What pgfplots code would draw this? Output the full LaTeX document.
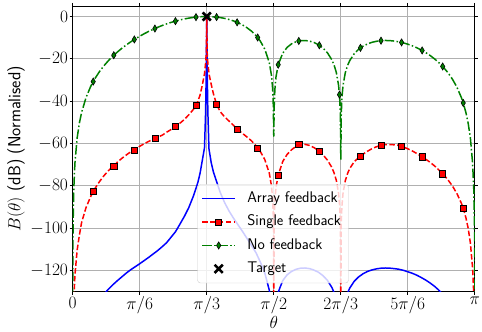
\RequirePackage{fix-cm}
\documentclass[border=0pt]{standalone}
\usepackage{pgfplots}
\usepackage{pgfplotstable}
\pgfplotsset{compat=1.18}
\definecolor{mgreen}{rgb}{0,0.5,0}
\definecolor{gridgray}{HTML}{B0B0B0}
\definecolor{leggray}{HTML}{CCCCCC}

\pgfplotstableread{
x y
0 -150
10 -137.2
14 -131.2
16 -128.8
18 -126.7
20 -124.8
22 -123.0
24 -121.2
26 -119.6
28 -118.2
30 -116.8
32 -115.3
34 -113.8
36 -112.2
38 -110.6
40 -108.8
42 -106.9
44 -104.3
46 -101.7
48 -98.1
50 -94.4
52 -90.2
54 -84.9
56 -78.5
57 -74.1
58 -68.1
59 -62.0
59.5 -45
59.8 -25
60 0
60.2 -25
60.5 -45
61 -62.5
62 -69.0
63 -73.5
64 -76.7
66 -83.0
68 -87.9
70 -91.9
72 -95.3
74 -98.4
76 -101.5
78 -104.8
80 -108.1
82 -111.5
84 -116.0
86 -121.2
88 -129.3
89 -135.5
90 -150
91 -136.0
92 -130.2
94 -124.8
96 -122.0
98 -120.4
100 -119.4
102 -118.9
104 -118.8
106 -119.1
108 -119.8
110 -120.8
112 -122.4
114 -124.6
116 -128.0
117 -130.4
118 -133.9
119 -140
120 -150
121 -140
122 -134.1
123 -130.7
124 -128.3
126 -125.1
128 -123.0
130 -121.5
132 -120.4
134 -119.7
136 -119.2
138 -118.9
140 -118.8
142 -118.9
144 -119.1
146 -119.4
148 -119.9
150 -120.6
152 -121.3
154 -122.2
156 -123.3
158 -124.5
160 -125.9
162 -127.5
164 -129.4
166 -131.6
168 -134.1
170 -137.2
172 -141
180 -160
}\arraytab

\pgfplotstableread{
x y
0 -140
0.5 -134.5
1 -122.4
2 -110.4
3 -103.3
4 -97.3
6 -90.2
8 -85.2
9.2 -82.5
10 -81.2
12 -78.0
14 -75.2
16 -72.8
18 -70.9
18.4 -70.7
20 -68.8
22 -67.0
24 -65.4
26 -63.9
27.6 -63.0
28 -62.6
30 -61.3
32 -60.1
34 -59.0
36 -58.0
36.8 -57.5
38 -57.0
40 -56.1
42 -54.7
44 -53.4
46 -52.0
48 -50.4
50 -48.6
52 -46.4
54 -43.9
55.2 -42.0
56 -40.2
57 -37.1
58 -32.5
59 -27.0
59.5 -22.0
59.8 -17.0
60 0
60.2 -17.0
60.5 -22.0
61 -27.0
62 -32.0
63 -36.5
64.4 -41.5
66 -44.9
68 -47.4
70 -49.4
72 -51.4
73.6 -53.2
76 -55.2
78 -56.9
80 -58.7
82 -61.0
82.8 -62.1
84 -63.8
86 -67.6
88 -74.0
89 -80.2
89.5 -86.3
89.8 -94.4
89.95 -106.4
90 -140
90.2 -94.5
90.5 -86.6
91 -80.7
92 -74.9
94 -68.5
96 -65.1
98 -62.9
100 -61.3
101.2 -60.5
102 -60.4
104 -60.4
106 -60.9
108 -61.9
110 -63.3
110.4 -63.8
112 -65.3
114 -67.8
116 -71.3
117 -73.9
118 -77.4
119 -83.5
119.5 -89.5
119.8 -97.5
120 -140
120.2 -97.5
120.5 -89.5
121 -83.5
122 -77.6
123 -74.2
124 -71.8
126 -68.6
128 -66.6
128.8 -66.0
130 -65.0
132 -63.6
134 -62.4
136 -61.5
138 -60.8
140 -60.5
142 -60.5
144 -60.6
146 -60.9
147.2 -61.3
148 -61.6
150 -62.5
152 -63.5
154 -64.7
156 -66.0
156.4 -66.3
158 -67.4
160 -68.9
162 -70.6
164 -72.6
165.6 -74.3
166 -74.7
168 -77.2
170 -80.1
172 -83.7
174 -88.3
174.8 -90.6
176 -95.1
177 -100.0
178 -107.0
179 -119.0
179.5 -131.0
180 -140
}\singletab

\pgfplotstableread{
x y
9.2 -82.5
18.4 -70.7
27.6 -63.0
36.8 -57.5
46.0 -52.0
55.2 -42.0
64.4 -41.5
73.6 -53.2
82.8 -62.1
92.0 -74.9
101.2 -60.5
110.4 -63.8
128.8 -66.0
138.0 -60.8
147.2 -61.3
156.4 -66.3
165.6 -74.3
174.8 -90.6
}\singlemarks

\pgfplotstableread{
x y
0 -140
0.05 -121.4
0.1 -109.4
0.2 -97.4
0.5 -81.45
1 -69.41
2 -57.37
3 -50.31
4 -45.30
6 -38.22
8 -33.17
9.2 -30.71
10 -29.24
12 -26.00
14 -23.24
16 -20.83
18 -18.69
18.4 -18.29
20 -16.76
22 -15.01
24 -13.41
26 -11.93
27.6 -10.83
28 -10.56
30 -9.30
32 -8.12
34 -7.04
36 -6.03
36.8 -5.65
38 -5.10
40 -4.25
42 -3.48
44 -2.78
46 -2.15
48 -1.60
50 -1.13
52 -0.73
54 -0.42
55.2 -0.27
56 -0.19
58 -0.05
59 -0.01
60 0
61 -0.01
62 -0.05
64 -0.20
64.4 -0.25
66 -0.47
68 -0.86
70 -1.39
72 -2.06
73.6 -2.73
74 -2.91
76 -3.97
78 -5.27
80 -6.88
82 -8.94
82.8 -9.91
84 -11.65
86 -15.41
88 -21.77
89 -28.00
89.5 -34.13
89.8 -42.16
89.95 -54.24
90 -56.5
90.2 -42.26
90.5 -34.37
91 -28.48
92 -22.73
94 -17.33
96 -14.54
98 -12.87
100 -11.89
101.2 -11.54
102 -11.40
104 -11.32
106 -11.60
108 -12.26
110 -13.31
110.4 -13.58
112 -14.86
114 -17.10
116 -20.45
117 -22.92
118 -26.43
119 -32.46
119.4 -36.9
119.5 -38.50
119.8 -46.46
120 -67.6
120.2 -46.48
120.5 -38.54
121 -32.54
122 -26.60
123 -23.18
124 -20.80
126 -17.57
128 -15.45
128.8 -14.79
130 -13.96
132 -12.90
134 -12.16
136 -11.68
138 -11.40
140 -11.30
142 -11.37
144 -11.59
146 -11.94
147.2 -12.22
148 -12.44
150 -13.06
152 -13.83
154 -14.74
156 -15.79
156.4 -16.02
158 -17.02
160 -18.42
162 -20.03
164 -21.89
165.6 -23.59
166 -24.05
168 -26.59
170 -29.65
172 -33.44
174 -38.37
174.8 -40.84
176 -45.38
177 -50.37
178 -57.38
179 -69.42
179.5 -81.45
179.8 -97.4
179.9 -109.4
179.95 -121.4
180 -140
}\nofbtab

\pgfplotstableread{
x y
9.2 -30.71
18.4 -18.29
27.6 -10.83
36.8 -5.65
46.0 -2.15
55.2 -0.27
64.4 -0.25
73.6 -2.73
82.8 -9.91
92.0 -22.73
101.2 -11.54
110.4 -13.58
119.4 -36.9
128.8 -14.79
138.0 -11.40
147.2 -12.22
156.4 -16.02
165.6 -23.59
174.8 -40.84
}\nofbmarks

\pgfplotstableread{
x y
60 0
}\targettab

\begin{document}
\begin{tikzpicture}
\begin{axis}[
  width=404pt, height=287pt, scale only axis,
  xmin=0, xmax=180, ymin=-130, ymax=5,
  xtick={0,30,60,90,120,150,180},
  xticklabels={$0$,$\pi/6$,$\pi/3$,$\pi/2$,$2\pi/3$,$5\pi/6$,$\pi$},
  ytick={-120,-100,-80,-60,-40,-20,0},
  grid=major,
  grid style={gridgray, line width=0.8pt},
  axis line style={black, line width=0.8pt},
  tick style={black, line width=0.8pt},
  major tick length=3pt, tick align=outside,
  ticklabel style={font=\fontsize{17.5}{20}\selectfont},
  xticklabel style={inner sep=2pt},
  yticklabel style={inner sep=1.5pt},
  xlabel={$\theta$},
  ylabel={$B(\theta)$ (dB) (Normalised)},
  label style={font=\sffamily\fontsize{17.5}{21}\selectfont},
  xlabel style={at={(axis description cs:0.5,0)}, anchor=base, yshift=-37pt},
  ylabel style={at={(axis description cs:-0.1188,0.5)}, anchor=south, inner sep=0pt},
  legend cell align=left,
  legend image code/.code={\draw[mark repeat=2,mark phase=2,#1] plot coordinates {(0pt,0pt) (16.5pt,0pt) (33pt,0pt)};},
  legend image post style={sharp corners, opacity=1},
  legend style={at={(axis description cs:0.310,0.376)}, anchor=north west,
    font=\sffamily\fontsize{15.5}{18}\selectfont,
    draw=leggray, fill=white, fill opacity=0.8, text opacity=1, draw opacity=1,
    rounded corners=3pt, inner xsep=4pt, inner ysep=2.5pt,
    column sep=8pt, row sep=0pt,
    nodes={inner xsep=3.5pt, inner ysep=4.25pt, text height=11.25pt, text depth=3.75pt}},
]
\addplot[blue, line width=1.5pt, line join=round, forget plot] table {\arraytab};
\addplot[red, line width=1.5pt, line join=round, dash pattern=on 5.5pt off 2.4pt, forget plot] table {\singletab};
\addplot[only marks, mark=square*, mark size=3.1pt, mark options={solid, fill=red, draw=black, line width=0.6pt}, forget plot] table {\singlemarks};
\addplot[mgreen, line width=1.5pt, line join=round, dash pattern=on 9.6pt off 2.4pt on 1.5pt off 2.4pt, forget plot] table {\nofbtab};
\addplot[only marks, mark=diamond*, mark size=3.6pt, mark options={solid, xscale=0.8, fill=mgreen, draw=black, line width=0.6pt}, forget plot] table {\nofbmarks};
\addplot[only marks, mark=x, mark size=5.8pt, mark options={line width=2.6pt, black}, forget plot] table {\targettab};

\addlegendimage{blue, line width=1.5pt}
\addlegendentry{Array feedback}
\addlegendimage{red, line width=1.5pt, dash pattern=on 5.5pt off 2.4pt, mark=square*, mark size=3.1pt, mark options={solid, fill=red, draw=black, line width=0.6pt}}
\addlegendentry{Single feedback}
\addlegendimage{mgreen, line width=1.5pt, dash pattern=on 9.6pt off 2.4pt on 1.5pt off 2.4pt, mark=diamond*, mark size=3.6pt, mark options={solid, xscale=0.8, fill=mgreen, draw=black, line width=0.6pt}}
\addlegendentry{No feedback}
\addlegendimage{only marks, mark=x, mark size=5.8pt, mark options={line width=2.6pt, black}}
\addlegendentry{Target}
\end{axis}
\path ([yshift=6pt]current axis.north east);
\path ([xshift=-73pt]current axis.west);
\path ([yshift=-38pt]current axis.south);
\end{tikzpicture}
\end{document}
